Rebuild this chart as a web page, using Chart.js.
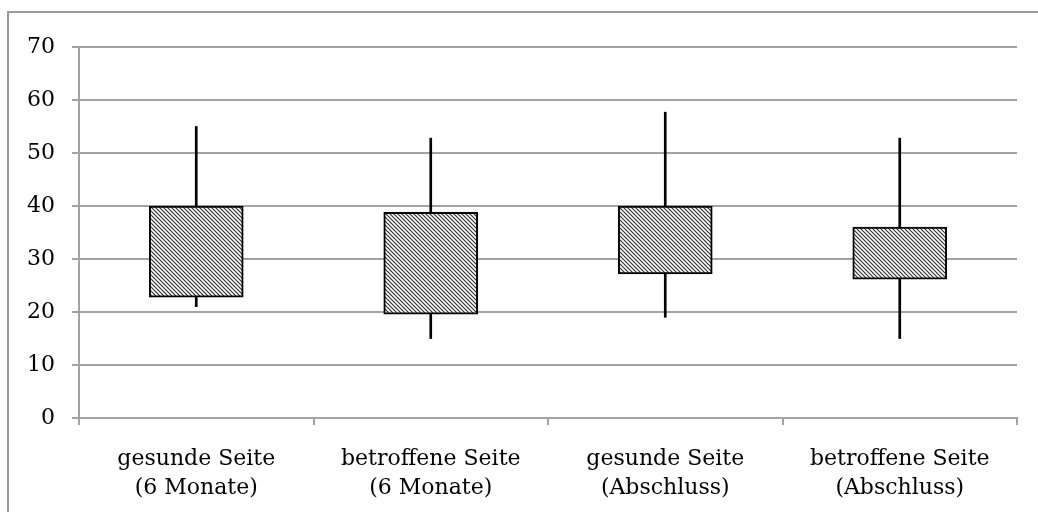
<!DOCTYPE html>
<html>
<head>
<meta charset="utf-8">
<script src="https://cdn.jsdelivr.net/npm/chart.js@4.4.1/dist/chart.umd.min.js"></script>
<style>
  html, body { margin: 0; padding: 0; background: #fff; overflow: hidden; }
  #frame {
    position: absolute; left: 7px; top: 11px; width: 1100px; height: 600px;
    border-top: 2px solid #9a9a9a; border-left: 2px solid #9a9a9a;
  }
  #wrap { position: absolute; left: 0; top: 0; width: 1038px; height: 512px; }
</style>
</head>
<body>
<div id="frame"></div>
<div id="wrap"><canvas id="chart"></canvas></div>
<script>
const categories = [
  ["gesunde Seite", "(6 Monate)"],
  ["betroffene Seite", "(6 Monate)"],
  ["gesunde Seite", "(Abschluss)"],
  ["betroffene Seite", "(Abschluss)"]
];
const boxLow = [22.8, 19.6, 27.2, 26.2];
const boxHigh = [40, 38.8, 40, 36];
const whiskerLow = [21, 15, 19, 15];
const whiskerHigh = [55, 52.8, 57.7, 52.8];
const yTicks = [0, 10, 20, 30, 40, 50, 60, 70];

// Schraffur, mit weissem Grund damit die Linie dahinter verdeckt ist
function hatch() {
  const c = document.createElement("canvas");
  c.width = 4; c.height = 4;
  const g = c.getContext("2d");
  g.fillStyle = "#fff";
  g.fillRect(0, 0, 4, 4);
  g.strokeStyle = "#333";
  g.lineWidth = 1.2;
  g.beginPath();
  g.moveTo(-1, -1); g.lineTo(5, 5);
  g.moveTo(3, -1); g.lineTo(5, 1);
  g.moveTo(-1, 3); g.lineTo(1, 5);
  g.stroke();
  return g.createPattern(c, "repeat");
}

const gridGray = "#a3a3a3";
const font = { family: "'DejaVu Serif', serif", size: 22, lineHeight: 1.3 };

new Chart(document.getElementById("chart"), {
  type: "bar",
  data: {
    labels: categories,
    datasets: [
      {
        data: boxLow.map((v, i) => [v, boxHigh[i]]),
        backgroundColor: hatch(),
        borderColor: "#000",
        borderWidth: 2,
        borderSkipped: false,
        barThickness: 94,
        grouped: false,
        order: 0
      },
      {
        data: whiskerLow.map((v, i) => [v, whiskerHigh[i]]),
        backgroundColor: "#000",
        borderWidth: 0,
        barThickness: 2,
        grouped: false,
        order: 1
      }
    ]
  },
  options: {
    responsive: true,
    maintainAspectRatio: false,
    animation: false,
    layout: { padding: { left: 0, right: 21, top: 47, bottom: 0 } },
    plugins: { legend: { display: false }, tooltip: { enabled: false } },
    scales: {
      x: {
        offset: true,
        grid: { offset: true, drawOnChartArea: false, color: gridGray, lineWidth: 2, tickLength: 7 },
        border: { color: gridGray, width: 2 },
        ticks: { color: "#000", font: font, padding: 20, maxRotation: 0 },
        afterFit: s => { s.height = 94; }
      },
      y: {
        min: 0,
        max: 70,
        afterBuildTicks: s => { s.ticks = yTicks.map(v => ({ value: v })); },
        grid: { color: gridGray, lineWidth: 2, tickLength: 7 },
        border: { color: gridGray, width: 2 },
        ticks: { color: "#000", font: font, padding: 17 },
        afterFit: s => { s.width = 79; }
      }
    }
  }
});
</script>
</body>
</html>
